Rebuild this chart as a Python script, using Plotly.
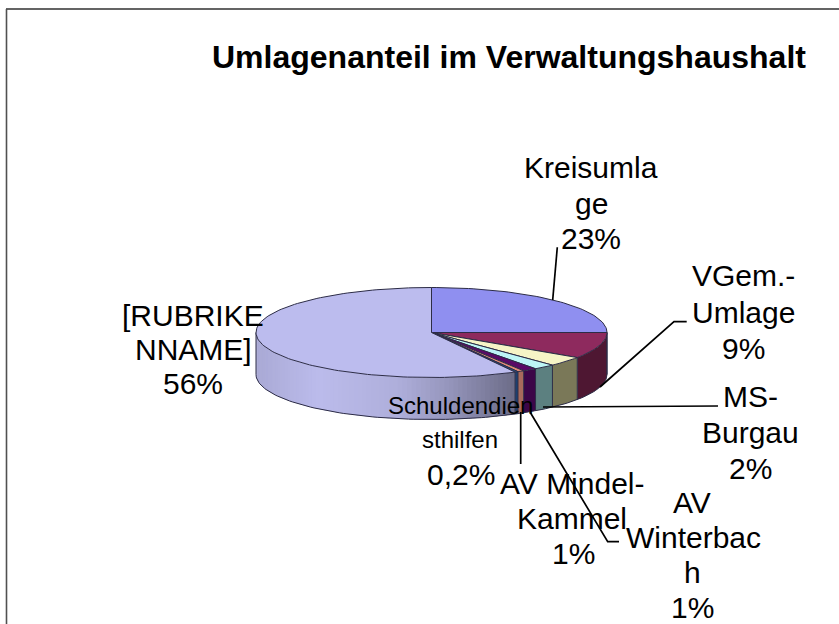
import math
import plotly.graph_objects as go

TITLE = "Umlagenanteil im Verwaltungshaushalt"
categories = ["Kreisumlage", "VGem.-Umlage", "MS-Burgau", "AV Winterbach",
              "AV Mindel-Kammel", "Sonstige", "Schuldendiensthilfen", "[RUBRIKENNAME]"]
shares = [25.0, 9.4, 3.5, 2.0, 1.3, 0.6, 0.3, 57.9]
top_colors = ["#8f8ff0", "#8e2a5e", "#f6f4c6", "#bdf6f6", "#5a0a66", "#e08a78", "#1f5c9c", "#bcbcee"]
side_colors = ["#6a6ab0", "#4e1732", "#7a7858", "#5c8080", "#3c0648", "#a86a5c", "#1c4070", "#bcbcec"]

# one entry per text line: text, centre x, centre y, font size
label_lines = [
    ("Kreisumla", 591, 167, 30), ("ge", 591, 203, 30), ("23%", 591, 238, 30),
    ("VGem.-", 743, 275, 30), ("Umlage", 743, 312, 30), ("9%", 743, 348, 30),
    ("MS-", 750, 396, 30), ("Burgau", 750, 432, 30), ("2%", 750, 468, 30),
    ("AV", 692, 502, 30), ("Winterbac", 693, 537, 30), ("h", 692, 572, 30), ("1%", 692, 607, 30),
    ("AV Mindel-", 572, 483, 30), ("Kammel", 572, 518, 30), ("1%", 573, 553, 30),
    ("[RUBRIKE", 193, 315, 30), ("NNAME]", 193, 349, 30), ("56%", 193, 383, 30),
    ("Schuldendien", 460, 405, 24), ("sthilfen", 460, 439, 24), ("0,2%", 461, 474, 30),
]
leaders = [[(552.7, 300), (557.3, 247.3)],
           [(600, 387), (674, 321.7), (686.7, 321.7)],
           [(543, 407), (718, 406)],
           [(530, 412), (607.7, 541.7), (619, 541.7)],
           [(520.7, 412), (520.7, 464)]]
lavender_x = [255, 320, 400, 450, 516]
lavender_f = [0.90, 1.00, 0.93, 0.80, 0.58]

CX, CY, RX, RY, DEPTH = 431.5, 332.5, 175.5, 45.0, 42.0
OUT = "#2c2c46"


def rim(theta, dy=0.0):
    return CX + RX * math.sin(theta), CY - RY * math.cos(theta) + dy


def mix(c, f):
    r, g, b = int(c[1:3], 16), int(c[3:5], 16), int(c[5:7], 16)
    return f"rgb({int(r*f)},{int(g*f)},{int(b*f)})"


def lerp(x, xs, fs):
    if x <= xs[0]:
        return fs[0]
    for a, b, p, q in zip(xs, xs[1:], fs, fs[1:]):
        if x <= b:
            return p + (q - p) * (x - a) / (b - a)
    return fs[-1]


def band(t0, t1, steps=6):
    pts_t = [t0 + (t1 - t0) * s / steps for s in range(steps + 1)]
    top = [rim(t) for t in pts_t]
    bot = [rim(t, DEPTH) for t in reversed(pts_t)]
    return [p[0] for p in top + bot], [p[1] for p in top + bot]


total = sum(shares)
fig = go.Figure()
spans = []
angle = 0.0
for v in shares:
    a1 = angle + 2 * math.pi * v / total
    spans.append((angle, a1))
    angle = a1

# side wall
last = len(shares) - 1
for i, (a0, a1) in enumerate(spans):
    lo, hi = max(a0, math.pi / 2), min(a1, 3 * math.pi / 2)
    if hi <= lo:
        continue
    if i == last:
        n = max(1, int((hi - lo) / math.radians(1.5)))
        step = (hi - lo) / n
        for k in range(n):
            t0 = lo + step * k
            t1 = min(hi, t0 + step * 1.6)
            xs, ys = band(t0, t1, 2)
            f = lerp(rim(t0)[0], lavender_x, lavender_f)
            fig.add_trace(go.Scatter(x=xs, y=ys, mode="none", fill="toself", fillcolor=mix(side_colors[i], f),
                                     hoverinfo="skip", showlegend=False))
    else:
        xs, ys = band(lo, hi, 16)
        fig.add_trace(go.Scatter(x=xs, y=ys, mode="none", fill="toself", fillcolor=side_colors[i],
                                 hoverinfo="skip", showlegend=False))
    if a0 >= math.pi / 2:
        x0, y0 = rim(lo)
        x1, y1 = rim(lo, DEPTH)
        fig.add_trace(go.Scatter(x=[x0, x1], y=[y0, y1], mode="lines",
                                 line=dict(color=OUT, width=1), hoverinfo="skip", showlegend=False))

# wall outline
arc = [math.pi / 2 + math.pi * k / 120 for k in range(121)]
fig.add_trace(go.Scatter(x=[rim(t, DEPTH)[0] for t in arc], y=[rim(t, DEPTH)[1] for t in arc], mode="lines",
                         line=dict(color=OUT, width=1), hoverinfo="skip", showlegend=False))
for t in (math.pi / 2, 3 * math.pi / 2):
    fig.add_trace(go.Scatter(x=[rim(t)[0], rim(t, DEPTH)[0]], y=[rim(t)[1], rim(t, DEPTH)[1]], mode="lines",
                             line=dict(color=OUT, width=1), hoverinfo="skip", showlegend=False))

# top faces
for i, (a0, a1) in enumerate(spans):
    n = max(2, int((a1 - a0) / math.radians(1.5)))
    ts = [a0 + (a1 - a0) * k / n for k in range(n + 1)]
    xs = [CX] + [rim(t)[0] for t in ts] + [CX]
    ys = [CY] + [rim(t)[1] for t in ts] + [CY]
    fig.add_trace(go.Scatter(x=xs, y=ys, mode="lines", fill="toself", fillcolor=top_colors[i],
                             line=dict(color=OUT, width=1), hoverinfo="skip", showlegend=False,
                             name=categories[i]))

# leader lines
for pts in leaders:
    fig.add_trace(go.Scatter(x=[p[0] for p in pts], y=[p[1] for p in pts], mode="lines",
                             line=dict(color="#000000", width=1.7), hoverinfo="skip", showlegend=False))

# chart border (top and left only)
fig.add_shape(type="line", x0=6, x1=839, y0=9, y1=9, line=dict(color="#303030", width=1.3))
fig.add_shape(type="line", x0=6.5, x1=6.5, y0=9, y1=624, line=dict(color="#505050", width=1.6))

font = dict(family="Liberation Sans, Arial, sans-serif", color="#000000")
ann = [dict(x=508.5, y=57, text=f"<b>{TITLE}</b>", font=dict(size=32, **font))]
for t, x, y, s in label_lines:
    ann.append(dict(x=x, y=y, text=t, font=dict(size=s, **font)))
for a in ann:
    a.update(xref="x", yref="y", showarrow=False, align="center", xanchor="center", yanchor="middle")

fig.update_layout(width=839, height=624, margin=dict(l=0, r=0, t=0, b=0), autosize=False,
                  paper_bgcolor="white", plot_bgcolor="white", annotations=ann,
                  xaxis=dict(range=[0, 839], visible=False, fixedrange=True),
                  yaxis=dict(range=[624, 0], visible=False, fixedrange=True))
fig.write_html("out.html", config={"displayModeBar": False},
               post_script="document.body.style.margin='0';document.documentElement.style.overflow='hidden';")
